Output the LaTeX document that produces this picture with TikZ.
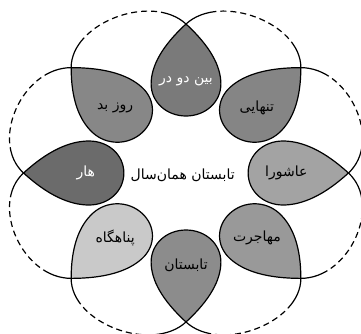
\documentclass[tikz,border=0pt]{standalone}
\usepackage{fontspec}
\newfontfamily\arabicfont[Script=Arabic]{DejaVu Sans}
\TeXXeTstate=1
\usetikzlibrary{calc}

\definecolor{cAshura}{gray}{0.64}
\definecolor{cTanhai}{gray}{0.52}
\definecolor{cBeyn}{gray}{0.48}
\definecolor{cRuz}{gray}{0.53}
\definecolor{cHar}{gray}{0.42}
\definecolor{cPanah}{gray}{0.79}
\definecolor{cTabes}{gray}{0.55}
\definecolor{cMohaj}{gray}{0.60}

\newcommand{\fa}[1]{{\arabicfont\beginR #1\endR}}

\begin{document}
\begin{tikzpicture}[x=1pt,y=1pt,
    petal/.style={draw=black,line width=1.2pt},
    ring/.style={draw=black,line width=1.2pt,
      dash pattern=on 28pt off 4pt on 6pt off 4pt on 6pt off 4pt on 6pt off 4pt
        on 6pt off 4pt on 6pt off 4pt on 6pt off 4pt on 6pt off 4pt on 6pt off 4pt
        on 90pt off 1pt},
    lbl/.style={font=\fontsize{14}{16}\selectfont}]
  \useasboundingbox (-186,-160) rectangle (175,173);
  \begin{scope}[xscale=1.09]
    % tips of the drops
    \foreach \i/\a in {1/0,2/45,3/90,4/135,5/180,6/225,7/270,8/315}
      \coordinate (t\i) at (\a:149);
    % outer loops from tip to tip
    \foreach \i/\j/\a in {1/2/0,2/3/45,3/4/90,4/5/135,5/6/180,6/7/225,7/8/270,8/1/315}
      \draw[ring] (t\i) to[out=\a+45,in=\a] (t\j);
    % the drops
    \foreach \a/\c/\tc/\n/\txt in {0/cAshura/black/ashura/{عاشورا},
        45/cTanhai/black/tanhai/{تنهایی},
        90/cBeyn/white/beyn/{بین دو در},
        135/cRuz/black/ruzbad/{روز بد},
        180/cHar/white/har/{هار},
        225/cPanah/black/panah/{پناهگاه},
        270/cTabes/black/tabes/{تابستان},
        315/cMohaj/black/mohaj/{مهاجرت}}
    {
      \begin{scope}[shift={(\a:149)},rotate=\a]
        \draw[petal,fill=\c] (0,0) .. controls (-22,22) and (-42,32) .. (-60,32)
          .. controls (-78,32) and (-92,18) .. (-92,0)
          .. controls (-92,-18) and (-78,-32) .. (-60,-32)
          .. controls (-42,-32) and (-22,-22) .. (0,0) -- cycle;
      \end{scope}
      \node[lbl,text=\tc] (\n) at (\a:92) {\fa{\txt}};
    }
    \node[lbl] (title) at (-3,-2) {\fa{تابستان همان‌سال}};
  \end{scope}
\end{tikzpicture}
\end{document}
